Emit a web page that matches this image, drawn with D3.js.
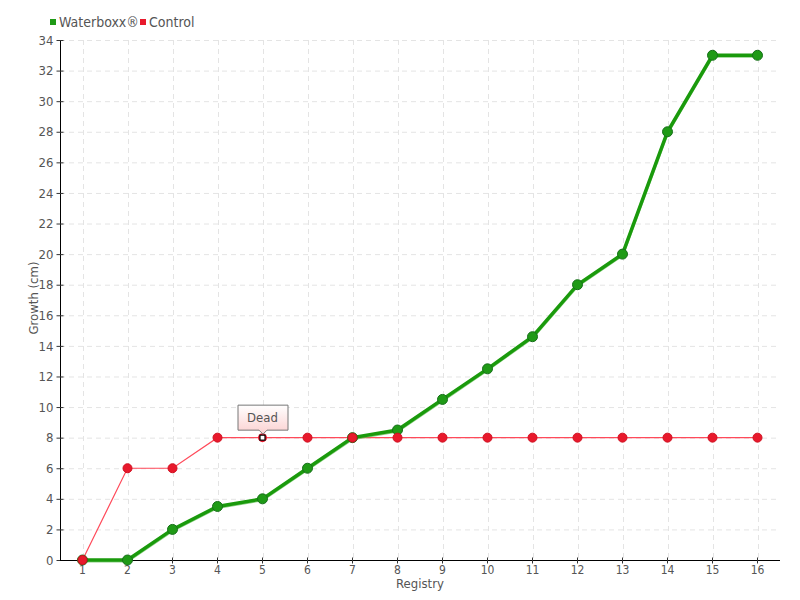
<!DOCTYPE html>
<html><head><meta charset="utf-8">
<script src="https://cdn.jsdelivr.net/npm/d3@7"></script>
<style>body{margin:0;background:#fff}svg{display:block}text{font-family:"DejaVu Sans Condensed","Roboto",sans-serif;fill:#555}</style>
</head><body><svg id="c" width="800" height="600"></svg>
<script>
const categories = ["1","2","3","4","5","6","7","8","9","10","11","12","13","14","15","16"];
const waterboxx = [0,0,2,3.5,4,6,8,8.5,10.5,12.5,14.6,18,20,28,33,33];
const control = [0,6,6,8,8,8,8,8,8,8,8,8,8,8,8,8];
const yTicks = d3.range(0,35,2);
const annotation = {series:"Control", index:4, text:"Dead"};

const svg = d3.select("#c");
const m = {l:60, r:780, t:40, b:560};
const x = d3.scaleBand().domain(categories).range([m.l,m.r]);
const cx = d => x(d)+x.bandwidth()/2;
const y = d3.scaleLinear().domain([0,34]).range([m.b,m.t]);

const defs = svg.append("defs");
const g1 = defs.append("linearGradient").attr("id","tip").attr("x1",0).attr("y1",0).attr("x2",0).attr("y2",1);
g1.append("stop").attr("offset","0%").attr("stop-color","#ffffff");
g1.append("stop").attr("offset","100%").attr("stop-color","#fbd0d0");

// grid
const grid = svg.append("g");
grid.selectAll(".h").data(yTicks.filter(d=>d>0)).join("line")
  .attr("x1",m.l).attr("x2",m.r).attr("y1",d=>y(d)+0.5).attr("y2",d=>y(d)+0.5)
  .attr("stroke","#e4e4e4").attr("stroke-dasharray","5,4");
grid.selectAll(".v").data(categories).join("line")
  .attr("x1",d=>Math.round(cx(d))+0.5).attr("x2",d=>Math.round(cx(d))+0.5).attr("y1",m.t).attr("y2",m.b)
  .attr("stroke","#e4e4e4").attr("stroke-dasharray","5,4");

// axes
const yAxis = svg.append("g").attr("transform",`translate(${m.l+0.5},0)`)
  .call(d3.axisLeft(y).tickValues(yTicks).tickSize(4).tickPadding(3));
yAxis.select(".domain").attr("stroke","#000").attr("d",`M0,${m.t}V${m.b}`);
yAxis.selectAll(".tick line").attr("stroke","#333").attr("x2",3).attr("x1",-4);
yAxis.selectAll("text").attr("font-size",13).attr("fill","#555");

const xAxis = svg.append("g").attr("transform",`translate(0,${m.b+0.5})`)
  .call(d3.axisBottom(x).tickSize(4).tickPadding(1));
xAxis.select(".domain").attr("stroke","#000").attr("d",`M${m.l},0H${m.r}`);
xAxis.selectAll(".tick line").attr("stroke","#333").attr("y1",-3).attr("y2",3);
xAxis.selectAll("text").attr("font-size",12).attr("fill","#555");

svg.append("text").attr("x",420).attr("y",588).attr("text-anchor","middle").attr("font-size",13).text("Registry");
svg.append("text").attr("transform","translate(38,298) rotate(-90)").attr("text-anchor","middle").attr("font-size",13).text("Growth (cm)");

// lines
const line = d3.line().x((d,i)=>cx(categories[i])).y(d=>y(d));
svg.append("path").datum(control).attr("d",line).attr("fill","none").attr("stroke","#ff4a5a").attr("stroke-width",1.2);
svg.append("path").datum(waterboxx).attr("d",line).attr("fill","none").attr("stroke","#5cba50").attr("stroke-width",3).attr("transform","translate(0,1)").attr("opacity",0.7);
svg.append("path").datum(waterboxx).attr("d",line).attr("fill","none").attr("stroke","#1a9a0c").attr("stroke-width",3.5);

svg.append("g").selectAll("circle").data(waterboxx).join("circle")
  .attr("cx",(d,i)=>cx(categories[i])).attr("cy",d=>y(d)).attr("r",5)
  .attr("fill","#1f9a16").attr("stroke","#17701a").attr("stroke-width",1);
const ctrlG = svg.append("g");
control.forEach((d,i)=>{
  if(i===annotation.index) return;
  ctrlG.append("circle").attr("cx",cx(categories[i])).attr("cy",y(d)).attr("r",4.5)
    .attr("fill","#e8192c").attr("stroke","#d01020").attr("stroke-width",1);
});
// annotated point
const ax = cx(categories[annotation.index]), ay = y(control[annotation.index]);
svg.append("circle").attr("cx",ax).attr("cy",ay).attr("r",4.5).attr("fill","#e8192c");
svg.append("rect").attr("x",ax-2.5).attr("y",ay-2.5).attr("width",5).attr("height",5).attr("fill","#fff").attr("stroke","#000").attr("stroke-width",1.2);
// tooltip
const bw=50,bh=25,by=ay-33;
svg.append("path").attr("d",`M${ax-25+0.5},${by+0.5}h${bw}v${bh}h-${bw/2-4}l-4,4l-4,-4h-${bw/2-4}z`)
  .attr("fill","url(#tip)").attr("stroke","#777").attr("stroke-width",1);
svg.append("text").attr("x",ax).attr("y",by+17).attr("text-anchor","middle").attr("font-size",13).attr("fill","#555").text(annotation.text);

// legend
const leg = svg.append("g");
leg.append("rect").attr("x",50).attr("y",19).attr("width",6).attr("height",6).attr("fill","#1f9a16");
leg.append("text").attr("x",59).attr("y",27).attr("font-size",14).text("Waterboxx®");
leg.append("rect").attr("x",140).attr("y",19).attr("width",6).attr("height",6).attr("fill","#e8192c");
leg.append("text").attr("x",149).attr("y",27).attr("font-size",14).text("Control");
</script></body></html>
